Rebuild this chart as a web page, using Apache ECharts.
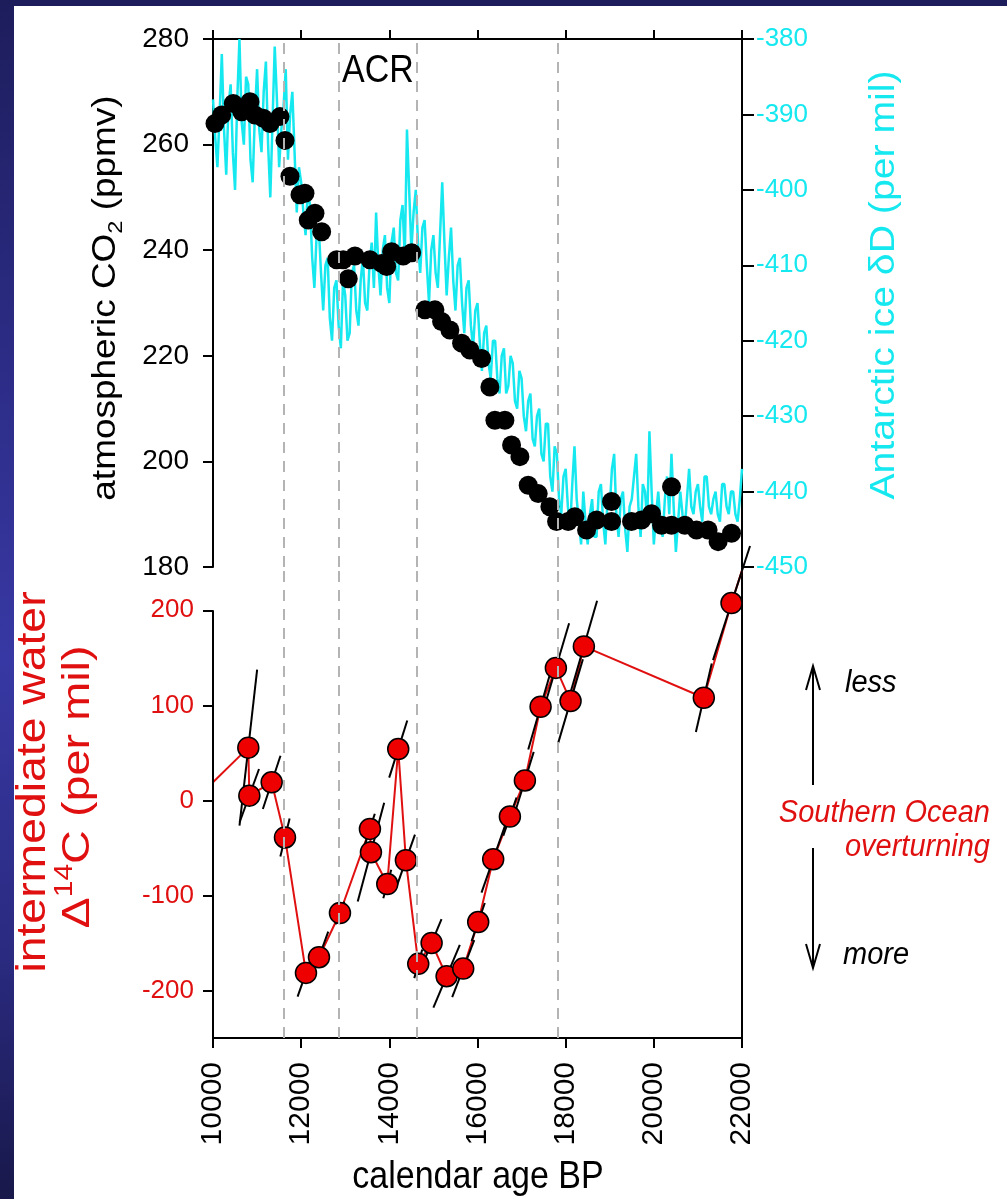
<!DOCTYPE html>
<html>
<head>
<meta charset="utf-8">
<script src="https://cdn.jsdelivr.net/npm/echarts@6/dist/echarts.min.js"></script>
<style>
  html, body { margin: 0; padding: 0; }
  body {
    width: 1007px; height: 1199px; overflow: hidden; position: relative;
    background: linear-gradient(to bottom, #1d1d5c 0%, #2c2c86 30%, #3838a4 55%, #2a2a80 80%, #18184a 100%);
  }
  #paper { position: absolute; left: 14px; top: 6px; right: 0; bottom: 0; background: #fff; }
  #chart { position: absolute; left: 0; top: 0; width: 1007px; height: 1199px; }
</style>
</head>
<body>
<div id="paper"></div>
<div id="chart"></div>
<script>
// atmospheric CO2 (black dots, top panel)
const co2Age = [10045, 10197, 10460, 10651, 10839, 10952, 11141, 11293, 11519, 11633, 11746, 11973, 12086, 12161, 12313, 12465,
  12805, 12955, 13068, 13220, 13560, 13825, 13939, 14052, 14315, 14506, 14807, 15034, 15186, 15374, 15640, 15828, 16093,
  16281, 16395, 16621, 16773, 16962, 17150, 17377, 17642, 17794, 18057, 18209, 18474, 18701, 19041, 19041, 19494, 19721,
  19948, 20175, 20401, 20401, 20703, 20968, 21231, 21458, 21762]
const co2Ppmv = [264.0, 265.6, 267.8, 266.2, 268.1, 265.6, 265.0, 264.0, 265.3, 260.8, 254.0, 250.5, 250.8, 245.7, 247.0, 243.5,
  238.2, 238.2, 234.6, 238.9, 238.2, 237.5, 236.9, 239.7, 238.9, 239.5, 228.7, 228.7, 226.5, 224.9, 222.4, 221.1, 219.5,
  214.1, 207.8, 207.8, 203.1, 200.9, 195.5, 193.9, 191.4, 188.6, 188.6, 189.5, 187.0, 188.9, 192.4, 188.6, 188.6, 188.9,
  190.1, 187.9, 195.2, 187.9, 187.9, 187.0, 187.0, 184.8, 186.4]

// Antarctic ice dD (cyan line, top panel)
const dDAge = [
  10000, 10050, 10100, 10150, 10200, 10250, 10300, 10350, 10400, 10450, 10500, 10550, 10600, 10650, 10700, 10750,
  10800, 10850, 10900, 10950, 11000, 11050, 11100, 11150, 11200, 11250, 11300, 11350, 11400, 11450, 11500, 11550,
  11600, 11650, 11700, 11750, 11800, 11850, 11900, 11950, 12000, 12050, 12100, 12150, 12200, 12250, 12300, 12350,
  12400, 12450, 12500, 12550, 12600, 12650, 12700, 12750, 12800, 12850, 12900, 12950, 13000, 13050, 13100, 13150,
  13200, 13250, 13300, 13350, 13400, 13450, 13500, 13550, 13600, 13650, 13700, 13750, 13800, 13850, 13900, 13950,
  14000, 14050, 14100, 14150, 14200, 14250, 14300, 14350, 14400, 14450, 14500, 14550, 14600, 14650, 14700, 14750,
  14800, 14850, 14900, 14950, 15000, 15050, 15100, 15150, 15200, 15250, 15300, 15350, 15400, 15450, 15500, 15550,
  15600, 15650, 15700, 15750, 15800, 15850, 15900, 15950, 16000, 16050, 16100, 16150, 16200, 16250, 16300, 16350,
  16400, 16450, 16500, 16550, 16600, 16650, 16700, 16750, 16800, 16850, 16900, 16950, 17000, 17050, 17100, 17150,
  17200, 17250, 17300, 17350, 17400, 17450, 17500, 17550, 17600, 17650, 17700, 17750, 17800, 17850, 17900, 17950,
  18000, 18050, 18100, 18150, 18200, 18250, 18300, 18350, 18400, 18450, 18500, 18550, 18600, 18650, 18700, 18750,
  18800, 18850, 18900, 18950, 19000, 19050, 19100, 19150, 19200, 19250, 19300, 19350, 19400, 19450, 19500, 19550,
  19600, 19650, 19700, 19750, 19800, 19850, 19900, 19950, 20000, 20050, 20100, 20150, 20200, 20250, 20300, 20350,
  20400, 20450, 20500, 20550, 20600, 20650, 20700, 20750, 20800, 20850, 20900, 20950, 21000, 21050, 21100, 21150,
  21200, 21250, 21300, 21350, 21400, 21450, 21500, 21550, 21600, 21650, 21700, 21750, 21800, 21850, 21900, 21950,
  22000]
const dDPermil = [
  -388, -393, -397, -390, -382, -392, -398, -389, -386, -395, -400, -388, -380, -391, -394, -385,
  -386, -396, -399, -390, -384, -392, -395, -387, -383, -394, -401, -391, -381, -388, -397, -392,
  -389, -384, -396, -390, -387, -395, -403, -397, -399, -403, -406, -400, -402, -409, -413, -406,
  -405, -411, -416, -410, -409, -417, -420, -413, -412, -418, -421, -412, -414, -420, -419, -411,
  -410, -416, -418, -412, -409, -415, -416, -410, -407, -413, -403, -410, -414, -408, -406, -413,
  -415, -407, -405, -411, -412, -404, -402, -409, -392, -400, -408, -403, -400, -407, -411, -405,
  -404, -410, -415, -408, -406, -411, -413, -406, -399, -407, -414, -409, -405, -412, -416, -410,
  -409, -415, -419, -413, -412, -418, -421, -416, -415, -420, -424, -419, -418, -423, -425, -420,
  -420, -425, -427, -422, -421, -427, -426, -422, -423, -428, -429, -424, -425, -430, -432, -428,
  -427, -433, -434, -430, -429, -435, -436, -431, -431, -438, -440, -434, -435, -441, -443, -438,
  -437, -442, -445, -439, -434, -441, -444, -447, -440, -444, -447, -443, -441, -446, -446, -440,
  -439, -444, -447, -441, -442, -437, -435, -443, -446, -441, -440, -445, -448, -442, -441, -438,
  -435, -442, -446, -439, -440, -444, -432, -440, -447, -443, -440, -444, -446, -441, -438, -443,
  -435, -442, -448, -444, -440, -443, -445, -441, -437, -442, -443, -440, -439, -442, -444, -438,
  -438, -442, -443, -441, -440, -443, -444, -439, -439, -442, -443, -440, -440, -443, -444, -441,
  -437]

// intermediate water D14C (red dots, bottom panel) with slanted error lines
const c14Age = [10801, 10824, 11331, 11633, 12109, 12404, 12880, 13560, 13583, 13953, 14202, 14376, 14656, 14959,
  15299, 15676, 16016, 16356, 16735, 17075, 17431, 17778, 18111, 18413, 21134, 21762]
const c14Permil = [55.5, 5, 19, -39, -181.5, -165, -118.5, -30, -54.5, -88, 54, -63, -172, -150,
  -185, -177, -128, -62, -17, 21, 98.5, 139.4, 104.5, 162, 108, 207.6]
const c14ErrAge = [200, 220, 200, 105, 190, 210, 100, 110, 300, 90, 205, 205, 90, 225,
  300, 250, 150, 265, 150, 200, 280, 300, 280, 300, 180, 420]
const c14ErrPermil = [82, 28, 28, 20, 25, 27, 12, 16, 52, 15, 30, 27, 15, 25,
  33, 30, 20, 35, 20, 30, 45, 47, 44, 48, 36, 60]
// where the red line enters / leaves the frame
const c14LineStart = [10000, 19]
const c14LineEnd = [22000, 242]

const xTicks = [10000, 22000, 2000]
const c14LabelValues = [-200, -100, 0, 100, 200]
const dashedAges = [11600, 12850, 14620, 17820]

const FONT = 'Liberation Sans, Arial, sans-serif'
const CYAN = '#16e8f0'
const RED = '#e01010'

const dashedLines = dashedAges.map(a => ({ xAxis: a }))
const plain = v => String(v)

const chart = echarts.init(document.getElementById('chart'))

const option = {
  animation: false,
  backgroundColor: 'transparent',
  textStyle: { fontFamily: FONT },
  grid: [
    { left: 213, top: 39, width: 529, height: 528, outerBoundsMode: 'none', containLabel: false },
    { left: 213, top: 568, width: 529, height: 470, outerBoundsMode: 'none', containLabel: false }
  ],
  xAxis: [
    {
      gridIndex: 0, type: 'value', position: 'top',
      min: xTicks[0], max: xTicks[1], interval: xTicks[2],
      axisLine: { onZero: false, lineStyle: { color: '#000', width: 2 } },
      axisTick: { length: 9, lineStyle: { color: '#000', width: 2 } },
      axisLabel: { show: false },
      splitLine: { show: false }
    },
    {
      gridIndex: 1, type: 'value', position: 'bottom',
      min: xTicks[0], max: xTicks[1], interval: xTicks[2],
      axisLine: { onZero: false, lineStyle: { color: '#000', width: 2 } },
      axisTick: { length: 10, lineStyle: { color: '#000', width: 2 } },
      axisLabel: { rotate: 90, fontSize: 30, color: '#000', margin: 24, fontFamily: FONT, formatter: plain },
      splitLine: { show: false }
    }
  ],
  yAxis: [
    {
      gridIndex: 0, type: 'value', position: 'left',
      min: 180, max: 280, interval: 20,
      axisLine: { show: true, onZero: false, lineStyle: { color: '#000', width: 2 } },
      axisTick: { show: true, length: 10, lineStyle: { color: '#000', width: 2 } },
      axisLabel: { fontSize: 28, color: '#000', margin: 24, fontFamily: FONT, formatter: plain },
      splitLine: { show: false }
    },
    {
      gridIndex: 0, type: 'value', position: 'right',
      min: -450, max: -380, interval: 10,
      axisLine: { show: true, onZero: false, lineStyle: { color: '#000', width: 2 } },
      axisTick: { show: true, length: 12, lineStyle: { color: '#000', width: 2 } },
      axisLabel: { fontSize: 26, color: CYAN, margin: 14, fontFamily: FONT, formatter: plain },
      splitLine: { show: false }
    },
    {
      gridIndex: 1, type: 'value', position: 'left',
      min: -250, max: 244.5,
      axisLine: { show: false, onZero: false },
      axisTick: { show: true, length: 10, customValues: c14LabelValues, lineStyle: { color: '#000', width: 2 } },
      axisLabel: { fontSize: 26, color: RED, margin: 19, customValues: c14LabelValues, fontFamily: FONT, formatter: plain },
      splitLine: { show: false }
    },
    {
      gridIndex: 1, type: 'value', position: 'right',
      min: -250, max: 244.5,
      axisLine: { show: true, onZero: false, lineStyle: { color: '#000', width: 2 } },
      axisTick: { show: false },
      axisLabel: { show: false },
      splitLine: { show: false }
    }
  ],
  series: [
    {
      name: 'dD', type: 'line', xAxisIndex: 0, yAxisIndex: 1,
      data: dDAge.map((a, i) => [a, dDPermil[i]]),
      showSymbol: false, symbol: 'none', z: 2,
      lineStyle: { color: CYAN, width: 2.5 },
      markLine: {
        silent: true, symbol: 'none', label: { show: false },
        lineStyle: { color: '#b4b4b4', width: 2, type: [11, 8] },
        data: dashedLines
      }
    },
    {
      name: 'CO2', type: 'scatter', xAxisIndex: 0, yAxisIndex: 0,
      data: co2Age.map((a, i) => [a, co2Ppmv[i]]),
      symbol: 'circle', symbolSize: 19, z: 4,
      itemStyle: { color: '#000', opacity: 1 }
    },
    {
      name: 'D14C line', type: 'line', xAxisIndex: 1, yAxisIndex: 2,
      data: [{ value: c14LineStart, symbol: 'none' }]
        .concat(c14Age.map((a, i) => [a, c14Permil[i]]))
        .concat([{ value: c14LineEnd, symbol: 'none' }]),
      showSymbol: false, symbol: 'none', z: 2, clip: false,
      lineStyle: { color: RED, width: 2 },
      markLine: {
        silent: true, symbol: 'none', label: { show: false },
        lineStyle: { color: '#b4b4b4', width: 2, type: [11, 8] },
        data: dashedLines.concat([
          [{ coord: [xTicks[0], -250], lineStyle: { color: '#000', width: 2, type: 'solid' } },
           { coord: [xTicks[0], 200] }]
        ])
      }
    },
    {
      name: 'D14C error', type: 'custom', xAxisIndex: 1, yAxisIndex: 2, z: 3,
      data: c14Age.map((a, i) => [a, c14Permil[i], c14ErrAge[i], c14ErrPermil[i]]),
      renderItem: (params, api) => {
        const x = api.value(0), v = api.value(1), dx = api.value(2), dv = api.value(3)
        const p1 = api.coord([x - dx, v - dv])
        const p2 = api.coord([x + dx, v + dv])
        return {
          type: 'line',
          shape: { x1: p1[0], y1: p1[1], x2: p2[0], y2: p2[1] },
          style: { stroke: '#000', lineWidth: 2 }
        }
      }
    },
    {
      name: 'D14C', type: 'scatter', xAxisIndex: 1, yAxisIndex: 2,
      data: c14Age.map((a, i) => [a, c14Permil[i]]),
      symbol: 'circle', symbolSize: 21, z: 4,
      itemStyle: { color: '#ee0000', borderColor: '#000', borderWidth: 1.5, opacity: 1 }
    }
  ],
  graphic: [
    {
      type: 'text', x: 106, y: 298, rotation: Math.PI / 2, scaleX: 1.12,
      style: {
        text: '{a|atmospheric CO}{s|2}{a| (ppmv)}', align: 'center', verticalAlign: 'middle',
        rich: {
          a: { fontSize: 33, lineHeight: 42, fill: '#000', fontFamily: FONT },
          s: { fontSize: 21, verticalAlign: 'bottom', fill: '#000', fontFamily: FONT }
        }
      }
    },
    {
      type: 'text', x: 884, y: 285, rotation: Math.PI / 2, scaleX: 1.12,
      style: { text: 'Antarctic ice \u03b4D (per mil)', fontSize: 35, fill: CYAN, fontFamily: FONT, align: 'center', verticalAlign: 'middle' }
    },
    {
      type: 'text', x: 34, y: 782, rotation: Math.PI / 2, scaleX: 1.13,
      style: { text: 'intermediate water', fontSize: 41, fill: RED, fontFamily: FONT, align: 'center', verticalAlign: 'middle' }
    },
    {
      type: 'text', x: 78, y: 787, rotation: Math.PI / 2, scaleX: 1.2,
      style: {
        text: '{a|\u0394}{p|14}{a|C (per mil)}', align: 'center', verticalAlign: 'middle',
        rich: {
          a: { fontSize: 39, lineHeight: 50, fill: RED, fontFamily: FONT },
          p: { fontSize: 25, verticalAlign: 'top', fill: RED, fontFamily: FONT }
        }
      }
    },
    {
      type: 'text', x: 478, y: 1177, scaleY: 1.12,
      style: { text: 'calendar age BP', fontSize: 34, fill: '#000', fontFamily: FONT, align: 'center', verticalAlign: 'middle' }
    },
    {
      type: 'text', x: 378, y: 71, scaleY: 1.12,
      style: { text: 'ACR', fontSize: 34, fill: '#000', fontFamily: FONT, align: 'center', verticalAlign: 'middle' }
    },
    {
      type: 'text', x: 845, y: 683, scaleY: 1.1,
      style: { text: 'less', fontSize: 29, fontStyle: 'italic', fill: '#000', fontFamily: FONT, align: 'left', verticalAlign: 'middle' }
    },
    {
      type: 'text', x: 990, y: 813, scaleY: 1.1,
      style: { text: 'Southern Ocean', fontSize: 29, fontStyle: 'italic', fill: RED, fontFamily: FONT, align: 'right', verticalAlign: 'middle' }
    },
    {
      type: 'text', x: 990, y: 847, scaleY: 1.1,
      style: { text: 'overturning', fontSize: 29, fontStyle: 'italic', fill: RED, fontFamily: FONT, align: 'right', verticalAlign: 'middle' }
    },
    {
      type: 'text', x: 843, y: 955, scaleY: 1.1,
      style: { text: 'more', fontSize: 29, fontStyle: 'italic', fill: '#000', fontFamily: FONT, align: 'left', verticalAlign: 'middle' }
    },
    // arrows for less / more overturning
    { type: 'line', shape: { x1: 813, y1: 666, x2: 813, y2: 785 }, style: { stroke: '#000', lineWidth: 2 } },
    { type: 'polyline', shape: { points: [[806, 690], [813, 666], [820, 690]] }, style: { stroke: '#000', lineWidth: 2, fill: null } },
    { type: 'line', shape: { x1: 813, y1: 848, x2: 813, y2: 968 }, style: { stroke: '#000', lineWidth: 2 } },
    { type: 'polyline', shape: { points: [[806, 944], [813, 968], [820, 944]] }, style: { stroke: '#000', lineWidth: 2, fill: null } }
  ]
}

chart.setOption(option)
</script>
</body>
</html>
